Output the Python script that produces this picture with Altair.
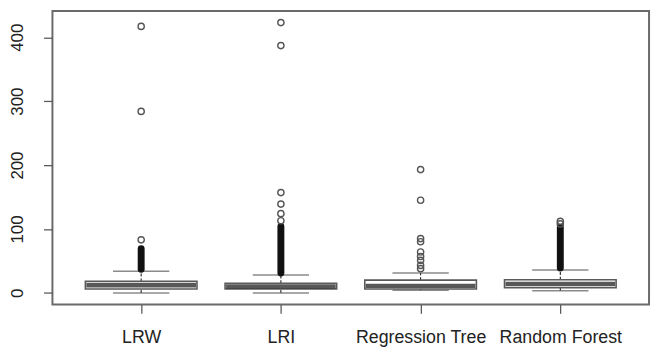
import altair as alt
import pandas as pd

# ---- data ----
methods = ["LRW", "LRI", "Regression Tree", "Random Forest"]
lower_whisker = [0, 0, 4, 3.5]
q1 = [6, 6, 6, 8]
median = [12, 10, 11, 14]
q3 = [18, 15, 20, 20.5]
upper_whisker = [34, 28, 31, 36]

# stretches where outlier circles overlap into a solid black bar
dense_methods = ["LRW", "LRI", "Random Forest"]
dense_lo = [37, 31, 39]
dense_hi = [69, 104, 103]

outlier_method = (["LRW"] * 3 + ["LRI"] * 6 + ["Regression Tree"] * 9
                  + ["Random Forest"] * 2)
outlier_value = [83, 284, 417,
                 113, 124, 139, 157, 387, 423,
                 38, 43, 51, 57, 64, 80, 85, 145, 193,
                 108, 112]

y_ticks = [0, 100, 200, 300, 400]

stats = pd.DataFrame({"method": methods, "lo": lower_whisker, "q1": q1,
                      "med": median, "q3": q3, "hi": upper_whisker})
dense = pd.DataFrame({"method": dense_methods, "lo": dense_lo, "hi": dense_hi})
outl = pd.DataFrame({"method": outlier_method, "value": outlier_value})

FONT = "Liberation Sans"
GRAY = "#5a5a5a"

x = alt.X("method:N", sort=methods,
          scale=alt.Scale(type="point", domain=methods, padding=0.635),
          axis=alt.Axis(title=None, domain=False, grid=False, tickSize=9,
                        tickColor=GRAY, tickWidth=1.3, labelFont=FONT,
                        labelFontSize=18, labelColor="#222222",
                        labelBaseline="alphabetic", labelPadding=30,
                        labelAngle=0))
yscale = alt.Scale(domain=[-18, 441], nice=False, zero=False)
yaxis = alt.Axis(title=None, domain=False, grid=False, values=y_ticks,
                 tickSize=9, tickColor=GRAY, tickWidth=1.3, labelFont=FONT,
                 labelFontSize=17, labelColor="#222222", labelAngle=270,
                 labelAlign="center", labelBaseline="alphabetic",
                 labelPadding=21, labelFlush=False)

base = alt.Chart(stats)

lower_line = base.mark_rule(color="#222", strokeWidth=1.1,
                            strokeDash=[3, 2]).encode(
    x=x, y=alt.Y("lo:Q", scale=yscale, axis=yaxis), y2="q1:Q")
upper_line = base.mark_rule(color="#222", strokeWidth=1.1,
                            strokeDash=[3, 2]).encode(
    x=x, y=alt.Y("q3:Q", scale=yscale, axis=yaxis), y2="hi:Q")
cap_lo = base.mark_tick(color=GRAY, size=57, thickness=1.5).encode(
    x=x, y=alt.Y("lo:Q", scale=yscale, axis=yaxis))
cap_hi = base.mark_tick(color=GRAY, size=57, thickness=1.5).encode(
    x=x, y=alt.Y("hi:Q", scale=yscale, axis=yaxis))
box = base.mark_bar(size=113, fill="white", stroke=GRAY,
                    strokeWidth=1.6).encode(
    x=x, y=alt.Y("q1:Q", scale=yscale, axis=yaxis), y2="q3:Q")
med = base.mark_tick(color="#111", size=111, thickness=4.5).encode(
    x=x, y=alt.Y("med:Q", scale=yscale, axis=yaxis))

band = alt.Chart(dense).mark_rule(color="#111", strokeWidth=7,
                                  strokeCap="round").encode(
    x=x, y=alt.Y("lo:Q", scale=yscale, axis=yaxis), y2="hi:Q")

pts = alt.Chart(outl).mark_point(shape="circle", filled=False, size=40,
                                 color="#555", strokeWidth=1.4,
                                 opacity=1).encode(
    x=x, y=alt.Y("value:Q", scale=yscale, axis=yaxis))

chart = alt.layer(lower_line, upper_line, cap_lo, cap_hi, box, med, band,
                  pts).properties(
    width=604, height=297,
    autosize=alt.AutoSizeParams(type="none"),
    padding={"left": 45, "top": 1, "right": 3, "bottom": 41},
    background="white",
).configure_view(stroke="#6a6a6a", strokeWidth=2)

chart.save("out.html", embed_options={"renderer": "svg", "actions": False})
